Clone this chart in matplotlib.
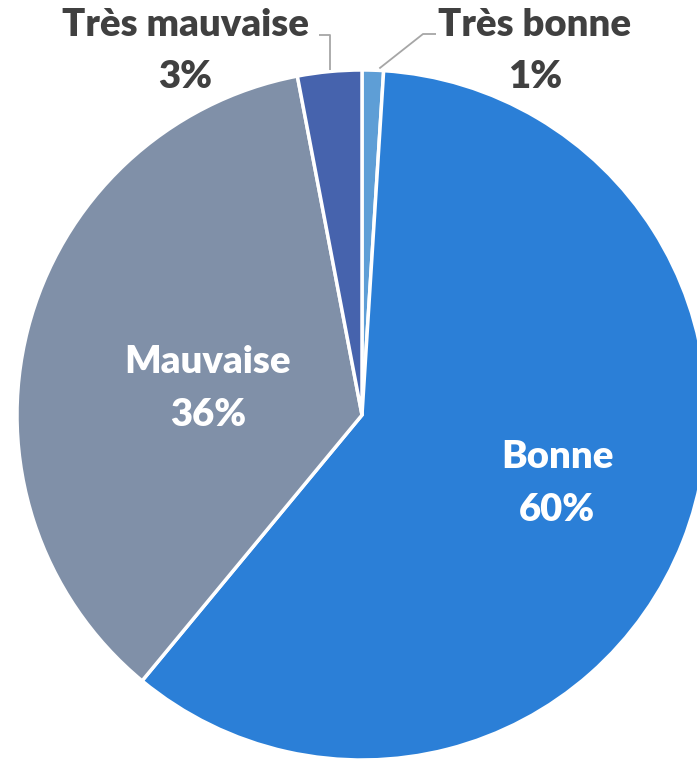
import numpy as np
import matplotlib
matplotlib.use('Agg')
import matplotlib.pyplot as plt

## Data
labels = ['Très bonne', 'Bonne', 'Mauvaise', 'Très mauvaise']
values = [1, 60, 36, 3]
colors = ['#5E9ED6', '#2B7FD7', '#8090A8', '#4663AD']

W, H = 697, 762
cx, cy, R = 362, H - 415, 345

fig = plt.figure(figsize=(W / 100, H / 100), dpi=100)
ax = fig.add_axes([0, 0, 1, 1])

wedges, _ = ax.pie(values, colors=colors, startangle=90, counterclock=False,
                   center=(cx, cy), radius=R, frame=True,
                   wedgeprops=dict(edgecolor='white', linewidth=2.5))
ax.set_xlim(0, W)
ax.set_ylim(0, H)
ax.set_aspect('equal')
ax.axis('off')

font = dict(family='Lato', weight='heavy', fontsize=27.5)
dark = '#404040'

# inside labels (Bonne, Mauvaise)
inside = {1: (557, 457), 2: (208, 362)}
for i, (x, y) in inside.items():
    ax.text(x, H - y, labels[i], color='white', ha='center', va='center', **font)
    ax.text(x, H - y - 53, f'{values[i]}%', color='white', ha='center', va='center', **font)

# outside labels with leader lines
outside = {0: (535, 25), 3: (185, 25)}
for i, (x, y) in outside.items():
    ax.text(x, H - y, labels[i], color=dark, ha='center', va='center', **font)
    ax.text(x, H - y - 52, f'{values[i]}%', color=dark, ha='center', va='center', **font)

def edge_point(w, frac):
    ang = np.deg2rad(w.theta1 + (w.theta2 - w.theta1) * frac)
    return cx + R * np.cos(ang), cy + R * np.sin(ang)

# Très bonne leader: diagonal then short horizontal
x0, y0 = edge_point(wedges[0], 0.2)
ax.plot([x0, 423, 436], [y0 + 2, H - 34, H - 34], color='#A6A6A6', lw=1.3,
        solid_capstyle='butt')
# Très mauvaise leader: vertical then short horizontal
x0, y0 = edge_point(wedges[3], 0.5)
ax.plot([x0, x0, 319], [y0 + 2, H - 35, H - 35], color='#A6A6A6', lw=1.3,
        solid_capstyle='butt')

fig.savefig('out.png', dpi=100, facecolor='white')
